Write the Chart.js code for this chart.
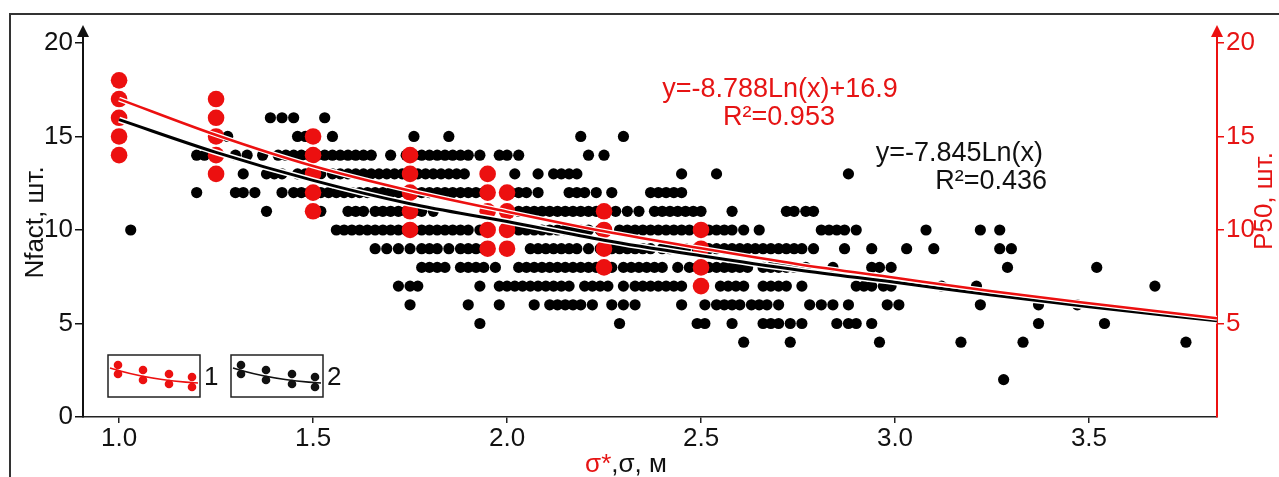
<!DOCTYPE html>
<html><head><meta charset="utf-8">
<script src="https://cdn.jsdelivr.net/npm/chart.js@4"></script>
<style>html,body{margin:0;padding:0;background:#fff;}#wrap{width:1279px;height:477px;position:relative;}</style>
</head><body><div id="wrap"><canvas id="c"></canvas></div>
<script>
// ---- tick labels ----
const xTicks = [1.0, 1.5, 2.0, 2.5, 3.0, 3.5];
const yTicks = [0, 5, 10, 15, 20];
const y2Ticks = [5, 10, 15, 20];

// ---- series 2 (black): sigma values at each Nfact level ----
const nLevels = [16, 15, 14, 13, 12, 11, 10, 9, 8, 7, 6, 5, 4, 2];
const n16 = [1.39, 1.42, 1.45, 1.53];
const n15 = [1.25, 1.28, 1.46, 1.48, 1.55, 1.76, 1.85, 2.19, 2.30];
const n14 = [1.20, 1.22, 1.25, 1.30, 1.33, 1.37, 1.41, 1.43, 1.45, 1.47, 1.49, 1.51, 1.53, 1.55, 1.57, 1.59, 1.61, 1.63, 1.65, 1.70, 1.74, 1.76, 1.78, 1.80, 1.82, 1.84, 1.86, 1.88, 1.90, 1.93, 1.98, 2.00, 2.03, 2.21, 2.25];
const n13 = [1.32, 1.38, 1.40, 1.42, 1.46, 1.48, 1.52, 1.55, 1.57, 1.59, 1.61, 1.63, 1.65, 1.67, 1.69, 1.71, 1.73, 1.77, 1.79, 1.81, 1.83, 1.85, 1.87, 1.89, 2.02, 2.08, 2.12, 2.14, 2.16, 2.18, 2.45, 2.54, 2.88];
const n12 = [1.20, 1.30, 1.32, 1.35, 1.42, 1.45, 1.47, 1.49, 1.52, 1.54, 1.56, 1.58, 1.60, 1.62, 1.64, 1.66, 1.68, 1.70, 1.72, 1.74, 1.76, 1.78, 1.80, 1.82, 1.84, 1.86, 1.88, 1.90, 1.92, 1.94, 2.01, 2.03, 2.05, 2.08, 2.16, 2.18, 2.20, 2.23, 2.27, 2.37, 2.39, 2.41, 2.43, 2.45];
const n11 = [1.38, 1.50, 1.52, 1.59, 1.61, 1.63, 1.66, 1.68, 1.70, 1.72, 1.74, 1.76, 1.78, 1.81, 2.03, 2.05, 2.07, 2.09, 2.11, 2.13, 2.15, 2.17, 2.19, 2.21, 2.23, 2.25, 2.28, 2.31, 2.34, 2.38, 2.40, 2.42, 2.44, 2.46, 2.48, 2.50, 2.58, 2.72, 2.74, 2.77, 2.79];
const n10 = [1.03, 1.56, 1.58, 1.60, 1.62, 1.64, 1.66, 1.68, 1.70, 1.72, 1.74, 1.76, 1.78, 1.80, 1.82, 1.84, 1.86, 1.88, 1.90, 1.93, 2.03, 2.05, 2.07, 2.09, 2.11, 2.13, 2.15, 2.17, 2.19, 2.21, 2.24, 2.29, 2.31, 2.33, 2.35, 2.37, 2.39, 2.41, 2.43, 2.45, 2.47, 2.50, 2.52, 2.54, 2.56, 2.58, 2.61, 2.65, 2.81, 2.83, 2.85, 2.87, 2.90, 3.08, 3.22, 3.27];
const n9 = [1.66, 1.69, 1.72, 1.75, 1.78, 1.80, 1.82, 1.85, 1.88, 1.90, 1.92, 1.94, 2.06, 2.08, 2.10, 2.12, 2.14, 2.16, 2.18, 2.21, 2.24, 2.27, 2.29, 2.31, 2.33, 2.35, 2.37, 2.40, 2.42, 2.44, 2.46, 2.49, 2.52, 2.54, 2.56, 2.58, 2.60, 2.62, 2.64, 2.66, 2.68, 2.70, 2.72, 2.74, 2.76, 2.79, 2.87, 2.94, 3.03, 3.10, 3.27, 3.30];
const n8 = [1.78, 1.80, 1.82, 1.84, 1.88, 1.90, 1.92, 1.94, 1.97, 2.03, 2.05, 2.07, 2.09, 2.11, 2.13, 2.15, 2.17, 2.19, 2.21, 2.23, 2.27, 2.30, 2.32, 2.34, 2.36, 2.38, 2.40, 2.44, 2.47, 2.49, 2.52, 2.54, 2.56, 2.58, 2.60, 2.62, 2.66, 2.68, 2.70, 2.72, 2.74, 2.77, 2.84, 2.94, 2.96, 2.99, 3.29, 3.52];
const n7 = [1.72, 1.75, 1.77, 1.93, 1.98, 2.00, 2.02, 2.04, 2.06, 2.08, 2.10, 2.12, 2.14, 2.16, 2.20, 2.22, 2.24, 2.26, 2.30, 2.33, 2.35, 2.37, 2.39, 2.41, 2.43, 2.45, 2.55, 2.57, 2.59, 2.61, 2.66, 2.68, 2.70, 2.72, 2.76, 2.90, 2.92, 2.94, 2.97, 2.99, 3.12, 3.21, 3.67];
const n6 = [1.75, 1.90, 1.98, 2.07, 2.11, 2.13, 2.15, 2.17, 2.19, 2.22, 2.27, 2.30, 2.33, 2.45, 2.51, 2.54, 2.56, 2.58, 2.60, 2.63, 2.65, 2.67, 2.70, 2.78, 2.81, 2.84, 2.88, 2.98, 3.01, 3.22, 3.37, 3.47];
const n5 = [1.93, 2.29, 2.49, 2.51, 2.58, 2.66, 2.68, 2.70, 2.73, 2.76, 2.85, 2.88, 2.90, 2.94, 3.37, 3.54];
const n4 = [2.61, 2.73, 2.96, 3.17, 3.33, 3.75];
const n2 = [3.28];
const nRows = [n16, n15, n14, n13, n12, n11, n10, n9, n8, n7, n6, n5, n4, n2];

// ---- series 1 (red): sigma* and P50 values ----
const redX = [1.0, 1.25, 1.5, 1.75, 1.95, 2.0, 2.25, 2.5];
const redY = [[14, 15, 16, 17, 18], [13, 14, 15, 16, 17], [11, 12, 13, 14, 15], [10, 11, 12, 13, 14], [9, 10, 11, 12, 13], [9, 10, 11, 12], [8, 9, 10, 11], [7, 8, 9, 10]];

// ---- trend curves ----
const trendX = [1.0, 1.25, 1.5, 1.75, 2.0, 2.25, 2.5, 2.75, 3.0, 3.25, 3.5, 3.83];
const trendRed = [17.0, 15.08, 13.42, 12.10, 10.98, 9.93, 9.02, 8.17, 7.44, 6.72, 6.08, 5.28];
const trendBlack = [15.9, 14.15, 12.65, 11.40, 10.45, 9.45, 8.62, 7.86, 7.20, 6.52, 5.90, 5.14];

// ---- texts ----
const eqRed = ['y=-8.788Ln(x)+16.9', 'R²=0.953'];
const eqBlack = ['y=-7.845Ln(x)', 'R²=0.436'];
const yTitle = 'Nfact, шт.';
const y2Title = 'P50, шт.';
const xTitleRed = 'σ*';
const xTitleBlack = ',σ, м';
const legendLabels = ['1', '2'];

const RED = 'rgb(236,16,16)';
const RED_TXT = 'rgb(230,20,20)';
const BLK = '#111';
const FONT = "'Liberation Sans', Arial, sans-serif";

const blackPts = [];
nRows.forEach((row, i) => row.forEach(x => blackPts.push({x: x, y: nLevels[i]})));
const redPts = [];
redX.forEach((x, i) => redY[i].forEach(y => redPts.push({x: x, y: y})));
const redLine = trendX.map((x, i) => ({x: x, y: trendRed[i]}));
const blackLine = trendX.map((x, i) => ({x: x, y: trendBlack[i]}));

const decor = {
  id: 'decor',
  afterDraw(chart) {
    const ctx = chart.ctx;
    const a = chart.chartArea;
    ctx.save();
    // outer frame
    ctx.strokeStyle = '#333'; ctx.lineWidth = 2;
    ctx.strokeRect(10, 14, 1300, 500);
    // arrows
    const arrow = (x, col) => {
      ctx.fillStyle = col; ctx.beginPath();
      ctx.moveTo(x, a.top - 3); ctx.lineTo(x - 6, a.top + 9); ctx.lineTo(x + 6, a.top + 9); ctx.closePath(); ctx.fill();
    };
    arrow(a.left, BLK); arrow(a.right, RED);
    // equations
    ctx.font = '27px ' + FONT; ctx.textBaseline = 'middle';
    ctx.fillStyle = RED_TXT; ctx.textAlign = 'center';
    ctx.fillText(eqRed[0], 780, 90);
    ctx.fillText(eqRed[1], 779, 118);
    ctx.fillStyle = BLK; ctx.textAlign = 'right';
    ctx.fillText(eqBlack[0], 1043, 154);
    ctx.fillText(eqBlack[1], 1047, 182);
    // right title
    ctx.save();
    ctx.translate(1265, 201); ctx.rotate(-Math.PI / 2);
    ctx.font = '26px ' + FONT; ctx.fillStyle = RED_TXT; ctx.textAlign = 'center'; ctx.textBaseline = 'middle';
    ctx.fillText(y2Title, 0, 0);
    ctx.restore();
    // x title
    ctx.font = '26px ' + FONT; ctx.textBaseline = 'alphabetic'; ctx.textAlign = 'left';
    const w1 = ctx.measureText(xTitleRed).width, w2 = ctx.measureText(xTitleBlack).width;
    const sx = 626 - (w1 + w2) / 2;
    ctx.fillStyle = RED_TXT; ctx.fillText(xTitleRed, sx, 472);
    ctx.fillStyle = BLK; ctx.fillText(xTitleBlack, sx + w1, 472);
    // legend boxes
    const drawBox = (bx, col, label) => {
      ctx.strokeStyle = '#222'; ctx.lineWidth = 1.5;
      ctx.strokeRect(bx, 355, 92, 42);
      ctx.fillStyle = col;
      const px = [10, 35, 61, 84], py = [[10, 19], [15, 25], [19, 29], [22, 32]];
      px.forEach((dx, i) => py[i].forEach(dy => { ctx.beginPath(); ctx.arc(bx + dx, 355 + dy, 4.3, 0, Math.PI * 2); ctx.fill(); }));
      ctx.strokeStyle = col; ctx.lineWidth = 1.5; ctx.beginPath();
      ctx.moveTo(bx + 2, 368); ctx.quadraticCurveTo(bx + 40, 380, bx + 90, 383); ctx.stroke();
      ctx.fillStyle = BLK; ctx.font = '26px ' + FONT; ctx.textAlign = 'left'; ctx.textBaseline = 'middle';
      ctx.fillText(label, bx + 96, 378);
    };
    drawBox(108, RED, legendLabels[0]);
    drawBox(231, BLK, legendLabels[1]);
    ctx.restore();
  }
};

const setTicks = arr => s => { s.ticks = arr.map(v => ({value: v})); };

new Chart(document.getElementById('c'), {
  type: 'scatter',
  data: {
    datasets: [
      {type: 'line', data: redLine, borderColor: RED, borderWidth: 2.5, pointRadius: 0, cubicInterpolationMode: 'monotone', order: 0, yAxisID: 'y1'},
      {type: 'line', data: redLine, borderColor: '#fff', borderWidth: 5, pointRadius: 0, cubicInterpolationMode: 'monotone', order: 1, yAxisID: 'y1'},
      {type: 'line', data: blackLine, borderColor: '#000', borderWidth: 3, pointRadius: 0, cubicInterpolationMode: 'monotone', order: 2},
      {type: 'line', data: blackLine, borderColor: '#fff', borderWidth: 6, pointRadius: 0, cubicInterpolationMode: 'monotone', order: 3},
      {data: redPts, backgroundColor: RED, borderWidth: 0, pointRadius: 8.3, order: 4, yAxisID: 'y1'},
      {data: blackPts, backgroundColor: '#000', borderWidth: 0, pointRadius: 5.6, order: 5}
    ]
  },
  options: {
    responsive: true, maintainAspectRatio: false, animation: false,
    layout: {padding: {top: 28, left: 0, right: 0, bottom: 0}},
    plugins: {legend: {display: false}, tooltip: {enabled: false}},
    scales: {
      x: {
        type: 'linear', min: 0.907, max: 3.83,
        afterBuildTicks: setTicks(xTicks),
        afterFit: s => { s.height = 60; },
        ticks: {autoSkip: false, maxRotation: 0, color: BLK, font: {size: 26, family: FONT}, padding: 0, callback: v => Number(v).toFixed(1)},
        grid: {drawOnChartArea: false, drawTicks: true, tickLength: 6, color: '#222', lineWidth: 1.5},
        border: {display: true, color: '#222', width: 1.5}
      },
      y: {
        position: 'left', min: 0, max: 20.8,
        afterBuildTicks: setTicks(yTicks),
        afterFit: s => { s.width = 83; },
        ticks: {color: BLK, font: {size: 26, family: FONT}, padding: 2},
        grid: {drawOnChartArea: false, drawTicks: true, tickLength: 8, color: '#111', lineWidth: 1.5},
        border: {display: true, color: '#111', width: 2},
        title: {display: true, text: yTitle, color: BLK, font: {size: 26, family: FONT}, padding: {top: 20, bottom: 0}}
      },
      y1: {
        position: 'right', min: 0, max: 20.8,
        afterBuildTicks: setTicks(y2Ticks),
        afterFit: s => { s.width = 62; },
        ticks: {color: RED_TXT, font: {size: 26, family: FONT}, padding: 2},
        grid: {drawOnChartArea: false, drawTicks: true, tickLength: 7, color: RED, lineWidth: 1.5},
        border: {display: true, color: RED, width: 2}
      }
    }
  },
  plugins: [decor]
});
</script></body></html>
